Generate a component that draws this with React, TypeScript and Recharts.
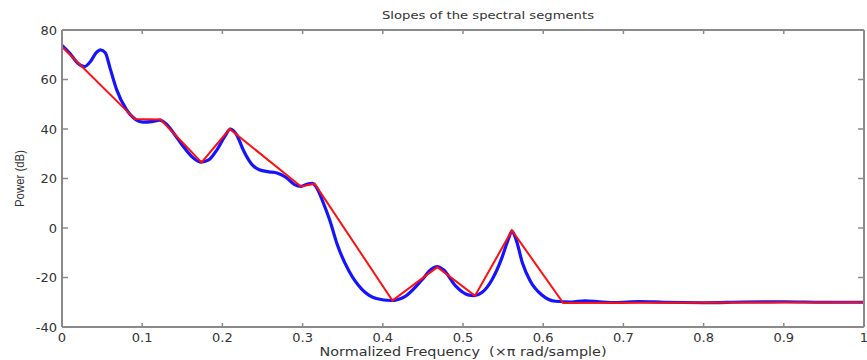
import React from "react";
import { LineChart, Line, XAxis, YAxis, Label } from "recharts";

// Blue: smoothed power spectrum
const blueFreq = [
  0.0, 0.01, 0.02, 0.028, 0.036, 0.043, 0.048, 0.054, 0.06, 0.068, 0.08, 0.092, 0.101, 0.112, 0.122,
  0.13, 0.14, 0.151, 0.162, 0.173, 0.183, 0.193, 0.203, 0.21, 0.218, 0.226, 0.236, 0.246, 0.258,
  0.268, 0.279, 0.29, 0.298, 0.306, 0.312, 0.318, 0.326, 0.334, 0.343, 0.358, 0.374, 0.392, 0.41,
  0.428, 0.449, 0.46, 0.468, 0.476, 0.491, 0.506, 0.514, 0.524, 0.536, 0.548, 0.556, 0.561, 0.566,
  0.574, 0.584, 0.598, 0.615, 0.635, 0.652, 0.67, 0.69, 0.72, 0.75, 0.8, 0.85, 0.9, 0.95, 1.0,
];
const bluePower = [
  73.8, 70.5, 66.5, 65.2, 67.5, 71.0, 72.0, 70.8, 64.5, 56.0, 48.0, 43.8, 42.8, 43.0, 43.6,
  42.0, 38.0, 33.0, 28.8, 26.6, 27.5, 31.5, 37.0, 40.0, 37.5, 31.5, 26.0, 23.5, 22.7,
  22.2, 20.5, 17.5, 16.8, 17.8, 18.0, 16.0, 10.0, 3.0, -6.5, -17.5, -24.8, -28.5, -29.3,
  -27.6, -20.9, -16.8, -15.6, -17.0, -23.5, -27.0, -27.3, -26.0, -21.0, -12.5, -5.0, -1.3, -4.5,
  -14.0, -21.5, -27.0, -29.6, -29.9, -29.4, -29.8, -30.1, -29.7, -30.0, -30.2, -29.9, -29.8, -30.0, -30.0,
];

// Red: piecewise linear segment slopes
const redFreq = [0.0, 0.091, 0.123, 0.174, 0.209, 0.298, 0.315, 0.412, 0.468, 0.515, 0.561, 0.625, 1.0];
const redPower = [73.2, 44.0, 43.8, 26.5, 40.0, 16.8, 17.9, -29.3, -15.8, -27.4, -1.0, -30.3, -30.0];

const xTicks = [0, 0.1, 0.2, 0.3, 0.4, 0.5, 0.6, 0.7, 0.8, 0.9, 1];
const yTicks = [-40, -20, 0, 20, 40, 60, 80];

const title = "Slopes of the spectral segments";
const xLabel = "Normalized Frequency  (\u00d7\u03c0 rad/sample)";
const yLabel = "Power (dB)";

const blueData = blueFreq.map((f, i) => ({ f, p: bluePower[i] }));
const redData = redFreq.map((f, i) => ({ f, p: redPower[i] }));

const AXIS = "#8a8a8a";
const TXT = "#333333";
const FONT = "'DejaVu Sans', 'Liberation Sans', Arial, sans-serif";

const fmtX = (v: number) => (v === 0 ? "0" : v === 1 ? "1" : String(v));

const BottomTick = (props: any) => {
  const { x, y, payload } = props;
  return (
    <g>
      <line x1={x} y1={y} x2={x} y2={y - 4} stroke={AXIS} strokeWidth={1.5} />
      <text x={x} y={y + 15} textAnchor="middle" fill={TXT} fontSize={13} fontFamily={FONT}>
        {fmtX(payload.value)}
      </text>
    </g>
  );
};

const TopTick = (props: any) => {
  const { x, y } = props;
  return <line x1={x} y1={y} x2={x} y2={y + 4} stroke={AXIS} strokeWidth={1.5} />;
};

const LeftTick = (props: any) => {
  const { x, y, payload } = props;
  return (
    <g>
      <line x1={x} y1={y} x2={x + 6} y2={y} stroke={AXIS} strokeWidth={1.5} />
      <text x={x - 5} y={y + 4.5} textAnchor="end" fill={TXT} fontSize={13} fontFamily={FONT}>
        {payload.value}
      </text>
    </g>
  );
};

const RightTick = (props: any) => {
  const { x, y } = props;
  return <line x1={x} y1={y} x2={x - 6} y2={y} stroke={AXIS} strokeWidth={1.5} />;
};

const renderTitle = (p: any) => {
  const vb = p.viewBox || {};
  const cx = (vb.x ?? 62) + (vb.width ?? 804) / 2 + 25;
  const bottom = (vb.y ?? 0) + (vb.height ?? 30);
  return (
    <text
      x={cx}
      y={bottom - 11}
      textAnchor="middle"
      fill={TXT}
      fontSize={11}
      fontFamily={FONT}
      textLength={212}
      lengthAdjust="spacingAndGlyphs"
    >
      {title}
    </text>
  );
};

const renderXLabel = (p: any) => {
  const vb = p.viewBox || {};
  const cx = (vb.x ?? 62) + (vb.width ?? 804) / 2;
  return (
    <text
      x={cx}
      y={(vb.y ?? 327) + 29}
      textAnchor="middle"
      fill={TXT}
      fontSize={12}
      fontFamily={FONT}
      textLength={287}
      lengthAdjust="spacingAndGlyphs"
      style={{ whiteSpace: "pre" }}
    >
      {xLabel}
    </text>
  );
};

const renderYLabel = (p: any) => {
  const vb = p.viewBox || {};
  const cy = (vb.y ?? 30) + (vb.height ?? 297) / 2;
  const cx = 20;
  return (
    <text
      x={cx}
      y={cy}
      transform={`rotate(-90 ${cx} ${cy})`}
      textAnchor="middle"
      dominantBaseline="central"
      fill={TXT}
      fontSize={12}
      fontFamily="'Liberation Sans', Arial, sans-serif"
      textLength={57}
      lengthAdjust="spacingAndGlyphs"
    >
      {yLabel}
    </text>
  );
};

export default function App() {
  return (
    <div
      style={{
        position: "absolute",
        left: 0,
        top: 0,
        width: 867,
        height: 360,
        overflow: "hidden",
        background: "#fff",
      }}
    >
      <LineChart width={878} height={360} margin={{ top: 0, right: 0, bottom: 0, left: 0 }}>
        <XAxis
          dataKey="f"
          type="number"
          domain={[0, 1]}
          ticks={xTicks}
          interval={0}
          height={33}
          tickSize={0}
          tickMargin={0}
          tick={<BottomTick />}
          axisLine={{ stroke: AXIS, strokeWidth: 2 }}
          allowDataOverflow
        >
          <Label content={renderXLabel} />
        </XAxis>
        <XAxis
          xAxisId="top"
          orientation="top"
          dataKey="f"
          type="number"
          domain={[0, 1]}
          ticks={xTicks}
          interval={0}
          height={30}
          tickSize={0}
          tickMargin={0}
          tick={<TopTick />}
          axisLine={{ stroke: AXIS, strokeWidth: 2 }}
          allowDataOverflow
        >
          <Label content={renderTitle} />
        </XAxis>
        <YAxis
          type="number"
          domain={[-40, 80]}
          ticks={yTicks}
          interval={0}
          width={62}
          tickSize={0}
          tickMargin={0}
          tick={<LeftTick />}
          axisLine={{ stroke: AXIS, strokeWidth: 2 }}
          allowDataOverflow
        >
          <Label content={renderYLabel} />
        </YAxis>
        <YAxis
          yAxisId="right"
          orientation="right"
          type="number"
          domain={[-40, 80]}
          ticks={yTicks}
          interval={0}
          width={14}
          tickSize={0}
          tickMargin={0}
          tick={<RightTick />}
          axisLine={{ stroke: AXIS, strokeWidth: 2 }}
          allowDataOverflow
        />
        {/* invisible series that binds the frame axes (top / right) */}
        <Line
          data={redData}
          dataKey="p"
          xAxisId="top"
          yAxisId="right"
          type="linear"
          stroke="none"
          strokeWidth={0}
          dot={false}
          activeDot={false}
          legendType="none"
          isAnimationActive={false}
        />
        <Line
          data={blueData}
          dataKey="p"
          type="monotone"
          stroke="#1414ff"
          strokeWidth={3.2}
          dot={false}
          isAnimationActive={false}
        />
        <Line
          data={redData}
          dataKey="p"
          type="linear"
          stroke="#ff1010"
          strokeWidth={2}
          dot={false}
          isAnimationActive={false}
        />
      </LineChart>
    </div>
  );
}
